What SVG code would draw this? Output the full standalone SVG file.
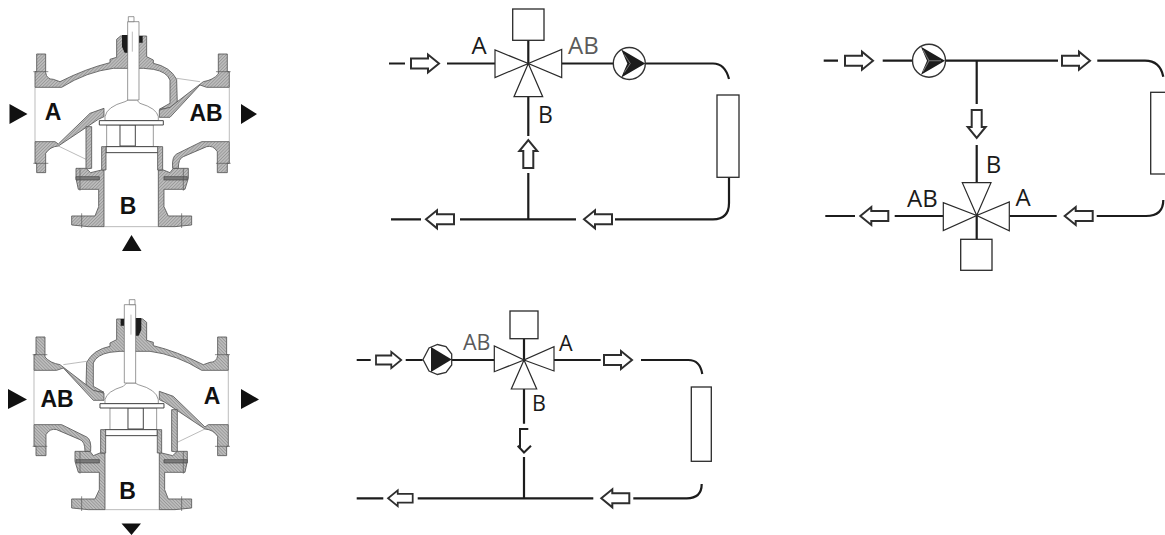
<svg xmlns="http://www.w3.org/2000/svg" width="1165" height="535" viewBox="0 0 1165 535">
<style>
.pipe{fill:none;stroke:#1c1c1c;stroke-width:2.2}
.sym{fill:#fff;stroke:#2a2a2a;stroke-width:1.2}
.box{fill:#fff;stroke:#2a2a2a;stroke-width:1.3}
.flow{fill:#fff;stroke:#2e2e2e;stroke-width:2;stroke-linejoin:miter}
.lbl{font-family:"Open Sans","Liberation Sans",sans-serif;fill:#1a1a1a}
.lg{fill:#5a5a5a}
.vl{font-family:"Liberation Sans",Arial,sans-serif;font-weight:700;font-size:23px;fill:#111;text-anchor:middle}
.w{fill:url(#hatch);stroke:#555;stroke-width:2.5;stroke-linejoin:round}
.c{fill:#fff;stroke:#666;stroke-width:2}
.b{fill:#fff;stroke:#444;stroke-width:3}
.t{fill:none;stroke:#777;stroke-width:1.5}
.k{fill:none;stroke:#555;stroke-width:2}
.d{fill:#7a7a7a;stroke:#444;stroke-width:2}
</style>
<defs>
<filter id="soft" x="-2%" y="-2%" width="104%" height="104%"><feGaussianBlur stdDeviation="0.35"/></filter>
<pattern id="hatch" width="7" height="7" patternUnits="userSpaceOnUse" patternTransform="rotate(45)">
<rect width="7" height="7" fill="#bdbdbd"/><rect width="2.5" height="7" fill="#979797"/>
</pattern>
<path id="flow" class="flow" d="M0,-5H17V-9L28,0L17,9V5H0Z"/>
<g id="valvebody">
<path class="w" d="M105,262V215H110V162H137V218Q140,238 160,238L180,245Q260,205 330,188V178L350,172V118L362,108H440V170L460,180V190Q510,200 530,238L532,312L510,324L478,328L510,310V240Q500,215 460,208L430,205H340Q260,215 185,262Z"/>
<path class="w" d="M655,162H682V215H688V262H620L600,255L510,352H478V330L510,322L610,245Q640,240 655,222Z"/>
<path class="t" d="M530,235L600,245"/>
<path class="w" d="M105,425H165L175,432L270,340L312,325V350L295,358L262,380L175,438Q150,440 137,460V518H110V490H105Z"/>
<path class="t" d="M175,438L258,478"/>
<path class="w" d="M258,380H275V505L258,507Z"/>
<path class="w" d="M228,505H258L272,518L305,510H312V680H265L215,675V648H285L296,620V568H235L228,535Z"/>
<path class="w" d="M475,510H490L510,518L520,505H565V535L555,568H492V620L505,648H575V675L525,680H475Z"/>
<path class="w" d="M518,505Q515,470 530,462L605,425H688V490H682V518H652V455Q640,435 620,440L550,470Q535,475 535,505Z"/>
<path class="d" d="M228,530H298V540H228ZM492,530H562V540H492Z"/>
<path class="k" d="M100,215H145M100,490H145M648,215H692M648,490H692M240,505V572M550,505V572M245,640V684M545,640V684"/>
<path class="c" d="M320,375H460V440H320Z"/>
<path class="b" d="M360,375H406V438H360Z"/>
<path class="c" d="M375,305Q320,320 315,350V362H475V350Q470,325 420,310L410,300H385Z"/>
<path class="b" d="M298,362H490V375H298Z"/>
<path class="b" d="M318,440H475V458H318Z"/>
<path class="w" d="M305,440H318V510H305ZM473,440H488V510H473Z"/>
<path fill="#1a1a1a" d="M366,105H384V158H374L366,140ZM417,108H428V128H417Z"/>
<path class="c" d="M383,65H417V300H383Z"/>
<path class="c" d="M385,50H402V65H385Z"/>
<path class="t" d="M397,95V155"/>
<path class="t" d="M105,262V425M688,262V425M312,680H475"/>
</g>
<g id="pump1">
<circle r="16" fill="#fff" stroke="#333" stroke-width="1.4"/>
<path fill="#1c1c1c" d="M-8,-14L16,0L-8,14L-2,0Z"/>
<path fill="none" stroke="#777" stroke-width="1" d="M-5,-9L1,0L-5,9"/>
</g>
</defs>

<g id="valve-mixing">
<use href="#valvebody" transform="scale(.3333)" filter="url(#soft)"/>
<path fill="#111" d="M9.500,104L27.500,114L9.500,124ZM241,104L257,114L241,124ZM131.500,235L122,251H141.500Z"/>
<text class="vl" x="53" y="120">A</text>
<text class="vl" x="206" y="121">AB</text>
<text class="vl" x="128" y="214">B</text>
</g>
<g id="valve-diverting">
<use href="#valvebody" transform="translate(263.300,283) scale(-.3333,.3333)" filter="url(#soft)"/>
<path fill="#111" d="M8,389L27,399.500L8,409ZM241,389L259,399.500L241,409ZM121.500,523.500H141L131.500,535Z"/>
<text class="vl" x="57" y="407">AB</text>
<text class="vl" x="212" y="404">A</text>
<text class="vl" x="127.500" y="499">B</text>
</g>

<g id="connectors">
<path class="pipe" d="M389,63.500H405M447,63.500H495M562,63.500H613M645,63.500H713Q725,63.500 729,79M528.300,40V63.500M528.300,97V136M528.300,173V219.300M391,219.300H421M460,219.300H576M615,219.300H713Q729,219.300 729,203V177"/>
<path class="pipe" d="M823.700,60.700H838M882.700,60.700H913M946,60.700H1058M1097.300,60.700H1145Q1160,60.700 1163.300,76.700M976.700,60.700V104M976.700,145V182.700M976.700,215V239.300M825.300,216H855M894.700,216H943.300M1009.300,216H1056.700M1096.700,216H1146Q1163.300,216 1163.300,200"/>
<path class="pipe" d="M356.700,360H370.700M405.700,360H422.700M451.700,360H494.300M554,360H600.700M641,360H688.300Q700,360 702.300,374M524,338.700V360M524,389V423.700M524,457V498.300M356.700,498.300H383.300M417.700,498.300H593.300M633.300,498.300H686.700Q701.700,498.300 701.700,484"/>
</g>

<g id="arrows">
<use href="#flow" transform="translate(411,63.500)"/>
<use href="#flow" transform="translate(528.300,168) rotate(-90)"/>
<use href="#flow" transform="translate(454,219.300) rotate(180)"/>
<use href="#flow" transform="translate(612,219.300) rotate(180)"/>
<use href="#flow" transform="translate(845,60.700)"/>
<use href="#flow" transform="translate(1062,60.700)"/>
<use href="#flow" transform="translate(976.700,110) rotate(90)"/>
<use href="#flow" transform="translate(888.300,216) rotate(180)"/>
<use href="#flow" transform="translate(1092.700,216) rotate(180)"/>
<use href="#flow" transform="translate(376,360) scale(.9,.9)"/>
<use href="#flow" transform="translate(604,360)"/>
<use href="#flow" transform="translate(412.700,498.300) rotate(180) scale(.88,.88)"/>
<use href="#flow" transform="translate(629.300,498.300) rotate(180)"/>
<path fill="none" stroke="#222" stroke-width="2" d="M528.300,429H520V449M517.700,445.700L524,452.500L531,445.700"/>
</g>

<g id="mix-valve-1">
<rect class="box" x="512.700" y="9" width="31.300" height="31.300"/>
<path class="sym" d="M495,50V77.500L528.300,63.500ZM561.700,49.500V77.500L528.300,63.500ZM528.300,63.500L514,96.700H542.700Z"/>
<text class="lbl" x="471.500" y="53.500" font-size="24">A</text>
<text class="lbl lg" x="568" y="54" font-size="24">AB</text>
<text class="lbl" x="538" y="122.500" font-size="23">B</text>
</g>
<g id="pump-1"><use href="#pump1" transform="translate(629.300,63.500)"/></g>
<g id="emitter-1"><rect class="box" x="717" y="95" width="22" height="82.300"/></g>

<g id="mix-valve-2">
<rect class="box" x="960.700" y="239.300" width="31.300" height="31"/>
<path class="sym" d="M962.300,182.700H991L976.700,215.500ZM943.300,202.700V230.500L976.700,215.500ZM1009.300,202V230.700L976.700,215.500Z"/>
<text class="lbl" x="985.700" y="173" font-size="24">B</text>
<text class="lbl" x="907" y="206.700" font-size="24">AB</text>
<text class="lbl" x="1015.500" y="206" font-size="24">A</text>
</g>
<g id="pump-2">
<circle cx="929" cy="60.700" r="16.500" fill="#fff" stroke="#333" stroke-width="1.4"/>
<path fill="#1c1c1c" d="M921,46.700L945,60.700L921,74.700L927,60.700Z"/>
<path fill="none" stroke="#777" stroke-width="1.100" d="M923,50L929,60.700L923,71.500M929,60.700H941"/>
</g>
<g id="emitter-2"><rect class="box" x="1150.700" y="92.300" width="20" height="81.700"/></g>

<g id="mix-valve-3">
<rect class="box" x="510" y="311" width="28" height="27.700"/>
<path class="sym" d="M494.300,346V371.700L524,360ZM554,346.700V371L524,360ZM524,360L511.300,389H536.700Z"/>
<text class="lbl lg" x="463" y="350" font-size="21.500">AB</text>
<text class="lbl" x="559" y="351" font-size="21.500">A</text>
<text class="lbl" x="532" y="411" font-size="21.500">B</text>
</g>
<g id="pump-3">
<path fill="#fff" stroke="#333" stroke-width="1.300" d="M423,359.500L429,348L437.500,344.500L446,346.500L451.700,354V365L446,372.500L437.500,374.500L429,371Z"/>
<path fill="#1c1c1c" d="M431,347L451.700,359.500L431,372Z"/>
</g>
<g id="emitter-3"><rect class="box" x="691.300" y="387" width="20" height="74.300"/></g>
</svg>
